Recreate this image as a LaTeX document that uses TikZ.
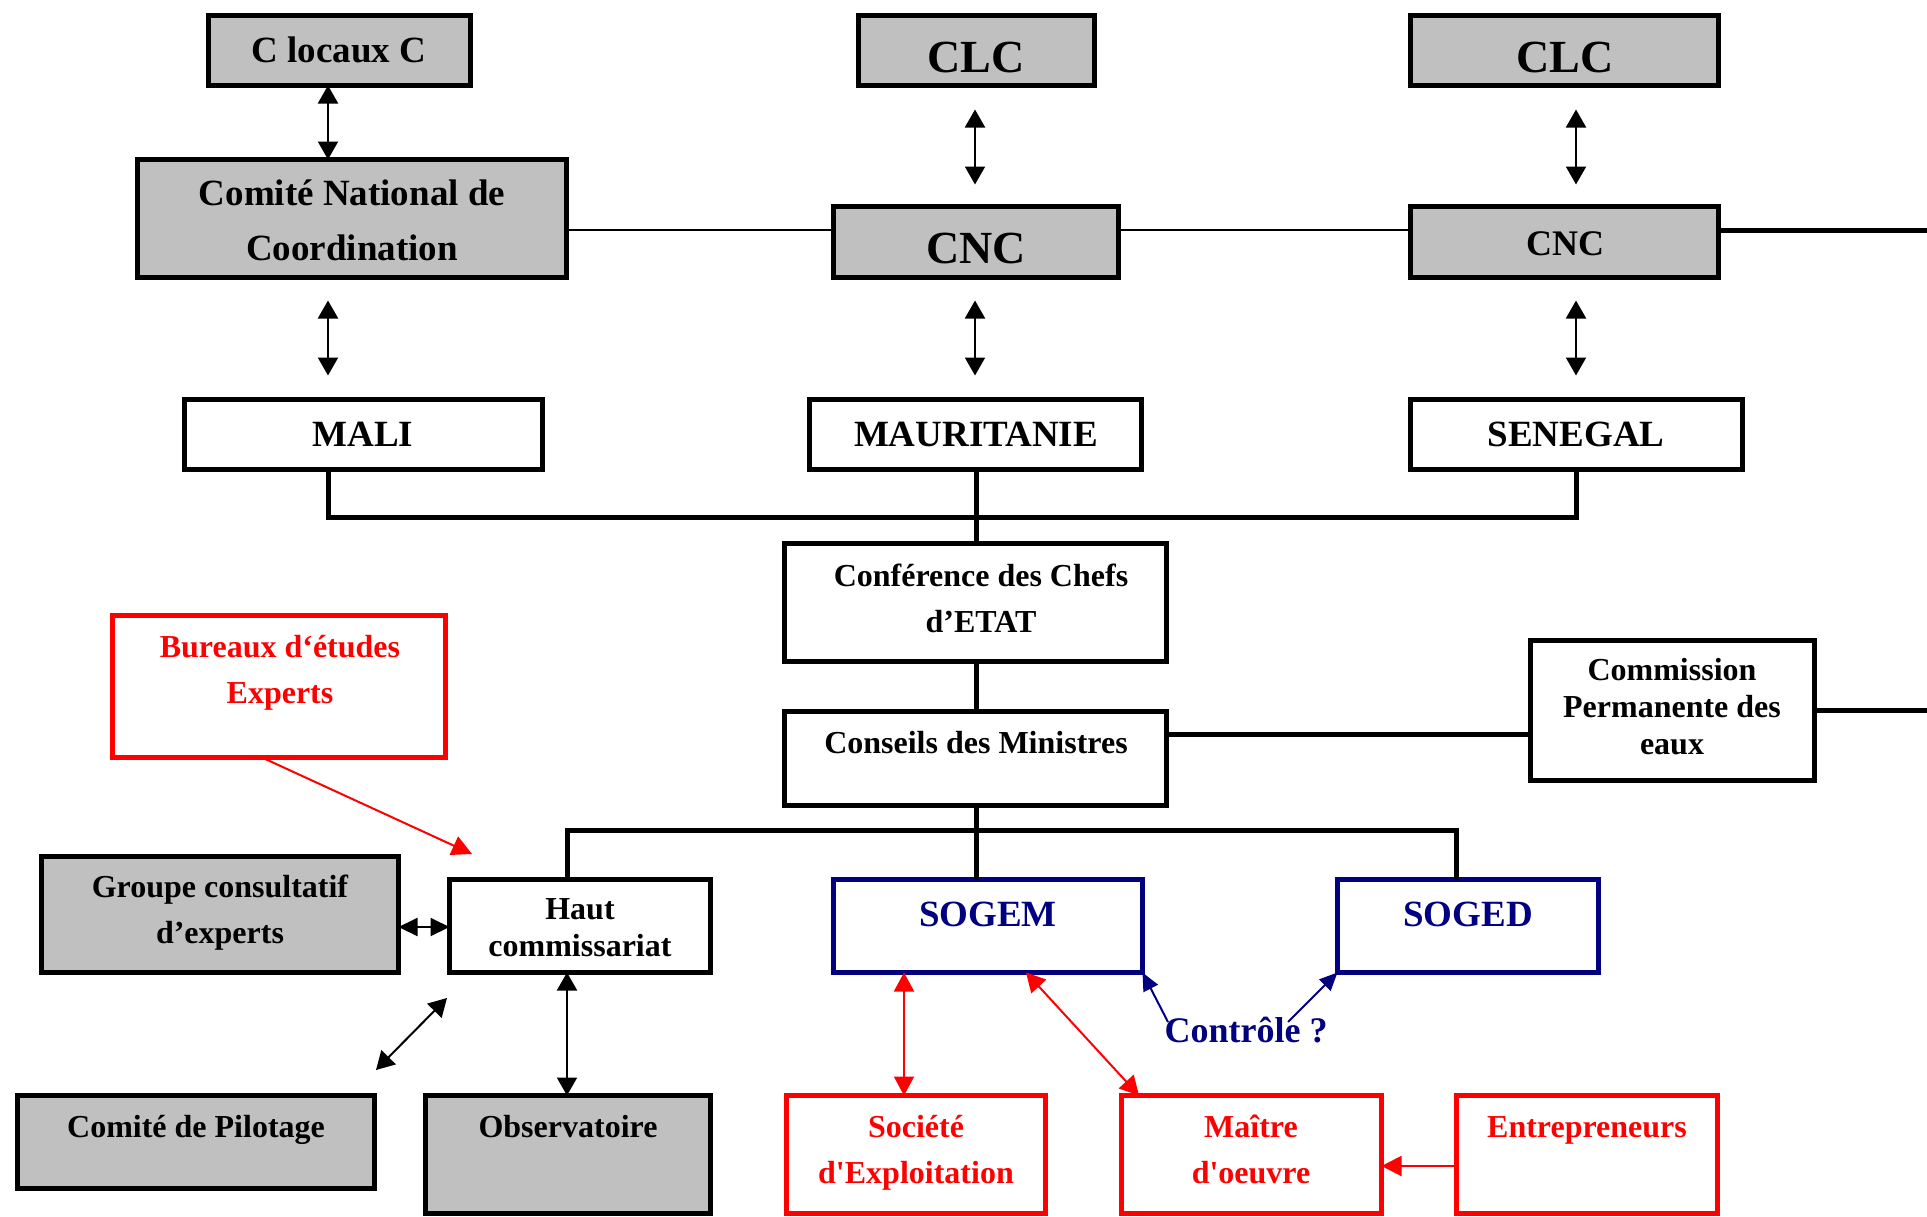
\documentclass[tikz,border=0pt]{standalone}
\usepackage{fontspec}
\setmainfont{Liberation Serif}[Ligatures=TeXOff]
\usetikzlibrary{arrows.meta,calc}
\definecolor{boxgray}{HTML}{C0C0C0}
\definecolor{navyc}{HTML}{000080}
\definecolor{rredc}{HTML}{FF0000}
\newcommand\mkbox[6]{\node[#2, minimum width={(#5-#3-5)*0.5pt}, minimum height={(#6-#4-5)*0.5pt}] (#1) at ({(#3+#5)/2},{(#4+#6)/2}) {};}
\newcommand\mktext[6]{\node[#2, anchor=base, inner sep=0pt, text width={#5*0.5pt}, align=flush center] (#1) at (#3,#4) {#6};}
\begin{document}
\begin{tikzpicture}[x=0.5pt,y=-0.5pt,
  box/.style={draw, line width=2.5pt, inner sep=0pt, outer sep=0pt},
  graybox/.style={box, fill=boxgray},
  redbox/.style={box, draw=rredc},
  bluebox/.style={box, draw=navyc},
  fs/.style={font=\bfseries\fontsize{16}{23.4}\selectfont},
  fstight/.style={font=\bfseries\fontsize{16}{18.5}\selectfont},
  fl/.style={font=\bfseries\fontsize{18.5}{27.5}\selectfont},
  fxl/.style={font=\bfseries\fontsize{23}{27}\selectfont},
  thickline/.style={line width=2.5pt, line join=miter},
  thinline/.style={line width=0.75pt},
  dbl/.style={line width=1pt, {Triangle[length=9pt,width=10pt]}-{Triangle[length=9pt,width=10pt]}},
  dblsm/.style={line width=1pt, {Triangle[length=9.5pt,width=9pt]}-{Triangle[length=9.5pt,width=9pt]}},
  redarr/.style={draw=rredc, line width=1pt, -{Triangle[length=10pt,width=10pt]}, rredc},
  reddbl/.style={draw=rredc, line width=1pt, {Triangle[length=9.5pt,width=10pt]}-{Triangle[length=9.5pt,width=10pt]}, rredc},
  bluearr/.style={draw=navyc, line width=1pt, -{Triangle[length=9pt,width=8pt]}, navyc},
]
\useasboundingbox (0,0) rectangle (1927,1216);

% ---- boxes ----
\mkbox{clc0}{graybox}{206}{13}{473}{88}
\mkbox{clc1}{graybox}{856}{13}{1097}{88}
\mkbox{clc2}{graybox}{1408}{13}{1721}{88}
\mkbox{cnc0}{graybox}{135}{157}{569}{280}
\mkbox{cnc1}{graybox}{831}{204}{1121}{280}
\mkbox{cnc2}{graybox}{1408}{204}{1721}{280}
\mkbox{mali}{box}{182}{397}{545}{472}
\mkbox{maur}{box}{807}{397}{1144}{472}
\mkbox{sene}{box}{1408}{397}{1745}{472}
\mkbox{conf}{box}{782}{541}{1169}{664}
\mkbox{cons}{box}{782}{709}{1169}{808}
\mkbox{comm}{box}{1528}{638}{1817}{783}
\mkbox{bur}{redbox}{110}{613}{448}{760}
\mkbox{grp}{graybox}{39}{854}{401}{975}
\mkbox{haut}{box}{447}{877}{713}{975}
\mkbox{sogem}{bluebox}{831}{877}{1145}{975}
\mkbox{soged}{bluebox}{1335}{877}{1601}{975}
\mkbox{pil}{graybox}{15}{1093}{377}{1191}
\mkbox{obs}{graybox}{423}{1093}{713}{1216}
\mkbox{soc}{redbox}{784}{1093}{1048}{1216}
\mkbox{mai}{redbox}{1119}{1093}{1384}{1216}
\mkbox{ent}{redbox}{1454}{1093}{1720}{1216}

% ---- texts ----
\mktext{tclc0}{fl}{339}{62}{260}{C locaux C}
\mktext{tclc1}{fxl}{976}{72}{240}{CLC}
\mktext{tclc2}{fxl}{1565}{72}{300}{CLC}
\mktext{tcnc0}{fl}{352}{205}{420}{Comité National de\\Coordination}
\mktext{tcnc1}{fxl}{976}{263}{280}{CNC}
\mktext{tcnc2}{font=\bfseries\fontsize{18}{22}\selectfont}{1565}{255}{300}{CNC}
\mktext{tmali}{fl}{363}{446}{350}{MALI}
\mktext{tmaur}{fl}{976}{446}{330}{MAURITANIE}
\mktext{tsene}{fl}{1576}{446}{330}{SENEGAL}
\mktext{tconf}{fs}{981}{586}{380}{Conférence des Chefs\\d’ETAT}
\mktext{tcons}{fs}{976}{753}{380}{Conseils des Ministres}
\mktext{tcomm}{fstight}{1672}{680}{280}{Commission\\Permanente des\\eaux}
\mktext{tbur}{fs,text=rredc}{280}{657}{330}{Bureaux d‘études\\Experts}
\mktext{tgrp}{fs}{220}{897}{350}{Groupe consultatif\\d’experts}
\mktext{thaut}{fstight}{580}{919}{260}{Haut\\commissariat}
\mktext{tpil}{fs}{196}{1137}{350}{Comité de Pilotage}
\mktext{tobs}{fs}{568}{1137}{280}{Observatoire}
\mktext{tsogem}{fl,text=navyc}{988}{926}{300}{SOGEM}
\mktext{tsoged}{fl,text=navyc}{1468}{926}{260}{SOGED}
\mktext{tsoc}{fs,text=rredc}{916}{1137}{260}{Société\\d'Exploitation}
\mktext{tmai}{fs,text=rredc}{1251}{1137}{260}{Maître\\d'oeuvre}
\mktext{tent}{fs,text=rredc}{1587}{1137}{260}{Entrepreneurs}
\mktext{tctrl}{font=\bfseries\fontsize{18}{22}\selectfont,text=navyc}{1246}{1042}{180}{Contrôle ?}

% ---- helper coordinates ----
\coordinate (xA) at (328,0);
\coordinate (xB) at (975,0);
\coordinate (xC) at (1576,0);
\coordinate (xM) at (976,0);
\coordinate (xH) at (567,0);
\coordinate (xD) at (1456,0);
\coordinate (yL) at (0,230);
\coordinate (yBar) at (0,517);
\coordinate (yH) at (0,830);
\coordinate (yCo) at (0,734);
\coordinate (yCr) at (0,710);
\coordinate (yG) at (0,927);
\coordinate (yE) at (0,1166);
\coordinate (edge1) at (1927,230);
\coordinate (edge2) at (1927,710);
\coordinate (xBu) at (262,0);
\coordinate (burend) at (472,854);
\coordinate (dg1) at (376,1070);
\coordinate (dg2) at (447,998);
\coordinate (xS1) at (904,0);
\coordinate (xS2) at (1026,0);
\coordinate (xS3) at (1139,0);
\coordinate (ct1) at (1168,1022);
\coordinate (ct2) at (1288,1022);

% ---- top arrows ----
\draw[dbl] (xA |- clc0.south) -- (xA |- cnc0.north);
\draw[dbl, shorten <=11.5pt, shorten >=12pt] (xA |- cnc0.south) -- (xA |- mali.north);
\draw[dbl, shorten <=12pt, shorten >=11pt] (xB |- clc1.south) -- (xB |- cnc1.north);
\draw[dbl, shorten <=11.5pt, shorten >=12pt] (xB |- cnc1.south) -- (xB |- maur.north);
\draw[dbl, shorten <=12pt, shorten >=11pt] (xC |- clc2.south) -- (xC |- cnc2.north);
\draw[dbl, shorten <=11.5pt, shorten >=12pt] (xC |- cnc2.south) -- (xC |- sene.north);

% ---- horizontal links ----
\draw[thinline] (cnc0.east |- yL) -- (cnc1.west |- yL);
\draw[thinline] (cnc1.east |- yL) -- (cnc2.west |- yL);
\draw[thickline] (cnc2.east |- yL) -- (edge1);

% ---- tree ----
\draw[thickline] (xA |- mali.south) -- (xA |- yBar) -- (xC |- yBar) -- (xC |- sene.south);
\draw[thickline] (xM |- maur.south) -- (xM |- conf.north);
\draw[thickline] (xM |- conf.south) -- (xM |- cons.north);
\draw[thickline] (xM |- cons.south) -- (xM |- sogem.north);
\draw[thickline] (xH |- haut.north) -- (xH |- yH) -- (xD |- yH) -- (xD |- soged.north);
\draw[thickline] (cons.east |- yCo) -- (comm.west |- yCo);
\draw[thickline] (comm.east |- yCr) -- (edge2);

% ---- lower arrows ----
\draw[redarr] (xBu |- bur.south) -- (burend);
\draw[dblsm] (grp.east |- yG) -- (haut.west |- yG);
\draw[dbl] (dg1) -- (dg2);
\draw[dbl] (xH |- haut.south) -- (xH |- obs.north);
\draw[reddbl] (xS1 |- sogem.south) -- (xS1 |- soc.north);
\draw[reddbl] (xS2 |- sogem.south) -- (xS3 |- mai.north);
\draw[redarr] (ent.west |- yE) -- (mai.east |- yE);
\draw[bluearr] (ct1) -- (sogem.south east);
\draw[bluearr] (ct2) -- (soged.south west);
\end{tikzpicture}
\end{document}
